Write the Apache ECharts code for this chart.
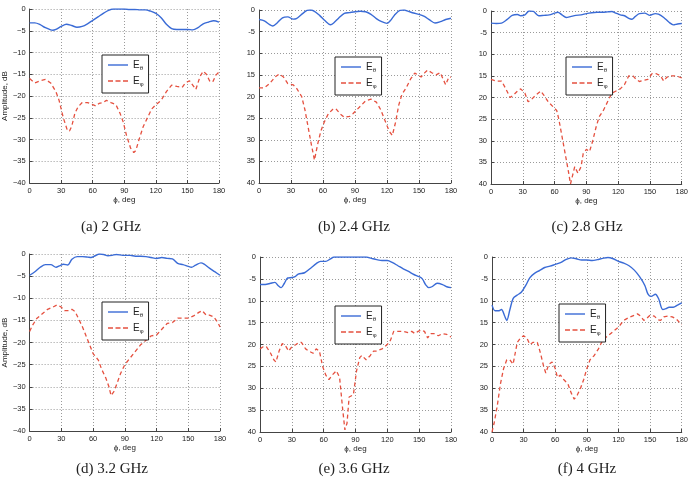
<!DOCTYPE html>
<html><head><meta charset="utf-8">
<script src="https://cdn.jsdelivr.net/npm/echarts@6/dist/echarts.min.js"></script>
<style>html,body{margin:0;padding:0;background:#fff}#c{width:691px;height:483px}</style>
</head><body><div id="c"></div>
<script>
// ---- data (phi in degrees, amplitude in dB) ----
const xTicks = [0, 30, 60, 90, 120, 150, 180];
const yTicks = [0, -5, -10, -15, -20, -25, -30, -35, -40];
const captions = ['(a) 2 GHz', '(b) 2.4 GHz', '(c) 2.8 GHz', '(d) 3.2 GHz', '(e) 3.6 GHz', '(f) 4 GHz'];
const seriesNames = ['Eθ', 'Eφ'];

const aThetaPhi = [0,5,10,15,20,22,25,30,35,40,45,50,55,60,65,70,75,80,85,90,95,100,105,110,115,120,125,130,135,140,145,150,155,160,165,170,175,180];
const aTheta    = [-3.2,-3.2,-3.6,-4.3,-4.8,-4.9,-4.7,-4.0,-3.5,-3.8,-4.2,-4.0,-3.4,-2.6,-1.8,-1.0,-0.3,0,0,0,-0.1,-0.1,-0.2,-0.2,-0.5,-1.0,-2.0,-3.5,-4.5,-4.7,-4.7,-4.7,-4.8,-4.3,-3.4,-3.0,-2.7,-3.0];
const aPhiPhi   = [0,5,10,15,20,25,28,32,36,38,40,43,46,50,55,60,63,66,70,73,78,82,86,89,92,96,99,101,104,108,112,116,120,125,130,135,140,145,148,152,155,158,162,165,168,171,174,177,180];
const aPhi      = [-16,-17,-16.5,-16.2,-17,-19,-21,-25,-28,-28,-27,-24,-22.5,-21.5,-21.5,-22,-22.3,-21.7,-21.5,-21,-21.6,-22,-24,-26,-29,-32,-33,-32.5,-30,-27,-25,-23,-22,-21,-19,-17.5,-17.8,-18,-17,-16.5,-17.5,-18.5,-15.5,-14.3,-15,-16.5,-16.8,-15.2,-14.5];

const bThetaPhi = [0,5,10,13,17,22,27,32,35,40,45,48,52,57,62,67,70,75,80,85,90,95,100,105,110,115,120,123,127,132,136,140,145,150,155,160,165,170,175,180];
const bTheta    = [-2.2,-2.5,-3.4,-3.7,-3.0,-1.8,-1.6,-2.1,-2.0,-1.0,-0.1,0,-0.3,-1.3,-2.5,-3.4,-3.0,-1.8,-0.8,-0.6,-0.4,-0.3,-0.4,-1.0,-2.0,-2.7,-3.1,-2.5,-1.2,-0.1,0,-0.3,-0.7,-1.0,-1.5,-2.3,-3.0,-2.7,-2.2,-1.9];
const bPhiPhi   = [0,5,10,15,19,23,27,32,35,40,43,46,49,52,55,58,61,65,69,72,76,80,85,88,92,96,100,105,110,114,118,122,125,128,131,134,138,142,146,149,152,155,158,162,166,170,173,175,178,180];
const bPhi      = [-18,-18,-17,-15.5,-14.8,-15.5,-17,-17.3,-18,-20,-23,-27,-31,-34.7,-31,-28,-26,-24,-23,-22.8,-24,-24.8,-24.6,-24,-23,-22,-21,-20.6,-21.3,-23,-25.5,-28,-29,-26,-22,-19.5,-18,-16,-14.6,-15,-15.5,-14.6,-13.9,-14.5,-15,-14.5,-16.2,-17.3,-15.5,-15.5];

const cThetaPhi = [0,5,10,15,20,25,28,32,36,40,45,50,55,60,63,67,71,75,80,85,90,95,100,105,110,114,118,122,126,130,133,136,140,145,150,155,158,163,168,172,176,180];
const cTheta    = [-2.8,-2.9,-2.8,-2.0,-1.0,-0.8,-1.1,-0.9,0,-0.1,-1.1,-1.0,-0.9,-0.5,-0.3,-0.9,-1.5,-1.3,-1.0,-0.9,-0.6,-0.4,-0.3,-0.3,-0.2,-0.1,-0.5,-0.9,-1.1,-1.7,-1.9,-1.3,-0.6,-0.5,-1.0,-0.6,-0.7,-1.5,-2.6,-3.2,-3.0,-2.9];
const cPhiPhi   = [0,5,10,14,18,21,25,28,32,35,38,42,47,50,54,58,62,64,67,70,73,75,77,79,82,85,87,90,93,96,99,102,106,110,114,118,122,126,130,134,137,140,145,148,152,156,160,163,166,170,175,180];
const cPhi      = [-15.8,-16.2,-16.2,-18,-20,-19.5,-18.5,-18,-19,-21,-20.5,-19.5,-18.5,-19.5,-21,-22,-23,-25,-29,-33,-37,-40,-38,-36,-37.5,-36,-33,-32,-32.5,-30,-27,-24.5,-23,-21,-19,-18.5,-18,-17,-15,-15,-15.8,-16.3,-16,-15.8,-14.5,-14.5,-15,-16.2,-15.3,-15,-15,-15.5];

const dThetaPhi = [0,5,10,15,20,25,28,32,36,40,45,50,55,58,62,66,70,74,78,82,88,95,100,105,110,115,120,125,130,135,140,145,150,153,157,162,165,170,175,180];
const dTheta    = [-4.8,-4.0,-3.0,-2.4,-2.4,-3.0,-2.7,-2.3,-2.5,-1.2,-0.6,-0.6,-0.7,-0.8,-0.4,0,-0.1,-0.4,-0.3,-0.1,-0.3,-0.3,-0.5,-0.5,-0.6,-0.8,-1.0,-0.8,-1.0,-1.1,-2.1,-2.4,-2.8,-3.0,-2.5,-2.0,-2.3,-3.2,-4.0,-4.8];
const dPhiPhi   = [0,3,7,12,17,22,26,30,33,37,40,43,46,50,55,60,65,68,72,75,77,80,83,86,90,95,100,105,110,115,120,125,130,135,140,145,150,155,160,163,167,170,174,178,180];
const dPhi      = [-17.5,-16,-14.5,-13.5,-12.5,-12,-11.5,-12,-12.8,-12.8,-12.5,-13,-14.5,-16.5,-19.5,-22.5,-24,-26,-28,-30,-32,-31,-29,-27,-25,-23.5,-22,-20.5,-19.5,-18.5,-18.3,-17,-15.7,-15.5,-14.5,-14.5,-14.5,-14,-13.2,-12.8,-13.8,-13.8,-14.2,-15.5,-16.5];

const eThetaPhi = [0,5,10,14,17,20,23,26,30,33,36,42,48,53,57,62,66,70,80,90,100,105,110,115,120,125,130,135,140,145,150,153,156,159,162,167,172,176,180];
const eTheta    = [-6.3,-6.3,-6.0,-5.8,-6.5,-7.0,-6.0,-4.8,-4.7,-4.5,-3.9,-3.6,-2.5,-1.5,-1.0,-1.0,-0.5,0,0,0,0,-0.3,-0.6,-0.8,-0.8,-1.3,-2.0,-2.7,-3.3,-4.0,-4.5,-5.0,-6.3,-7.0,-6.8,-6.0,-6.3,-6.8,-7.0];
const ePhiPhi   = [0,3,6,10,13,15,18,21,24,27,30,34,36,39,43,46,50,53,56,59,62,65,68,72,75,78,80,82,84,88,91,94,96,100,104,107,110,115,120,123,126,130,135,140,143,146,149,152,155,158,161,164,168,172,176,180];
const ePhi      = [-21,-20.5,-20.5,-22,-23.5,-24,-21.5,-19.8,-20.3,-21.5,-20.5,-20,-19.6,-19.5,-21,-21.5,-22,-21,-21.5,-25,-27,-28,-27,-26,-27.5,-35,-39.5,-38,-32,-31.5,-26,-23,-22.5,-23.5,-22.5,-21.5,-21.5,-21,-20,-19,-17,-17,-17,-17.3,-17,-17.5,-17,-16.7,-17,-18.5,-17.5,-17.5,-18,-17.5,-17.7,-18.3];

const fThetaPhi = [0,3,6,9,12,14,17,20,24,28,32,36,40,45,50,55,60,65,70,75,80,85,90,95,100,105,110,115,120,125,130,135,140,145,148,151,155,158,162,165,168,172,176,180];
const fTheta    = [-11,-12.3,-12.3,-12.0,-13.5,-14.5,-12,-9.5,-8.7,-8.0,-6.5,-4.7,-3.8,-3.1,-2.4,-2.1,-1.7,-1.3,-0.6,-0.2,-0.4,-0.7,-0.7,-0.8,-0.6,-0.3,-0.1,-0.4,-1.0,-1.4,-2.0,-3.0,-4.5,-6.5,-8.5,-9.0,-8.5,-9.5,-12.0,-11.8,-11.5,-11.5,-11,-10.5];
const fPhiPhi   = [0,2,5,8,11,14,17,20,22,24,27,30,33,36,39,43,46,49,51,54,57,60,62,65,68,72,75,78,81,84,87,90,93,97,101,105,110,115,120,125,130,135,138,141,144,147,150,154,157,160,163,167,171,175,178,180];
const fPhi      = [-40,-38,-34,-29,-25.5,-23.5,-23.5,-24.5,-22,-19.5,-18.5,-18,-18.5,-20,-19.5,-19.5,-22,-25,-26.5,-24.5,-24,-25.5,-27.5,-27,-28,-29,-31,-32.5,-31.5,-30,-28,-25.5,-23.5,-22.5,-21,-19,-18,-17,-16,-14.5,-13.8,-13.3,-13,-13.5,-14.5,-14,-13.3,-13.5,-14.3,-14.5,-13.7,-13.5,-13.7,-14.2,-15,-15.5];

const panels = [
  {tp: aThetaPhi, t: aTheta, pp: aPhiPhi, p: aPhi},
  {tp: bThetaPhi, t: bTheta, pp: bPhiPhi, p: bPhi},
  {tp: cThetaPhi, t: cTheta, pp: cPhiPhi, p: cPhi},
  {tp: dThetaPhi, t: dTheta, pp: dPhiPhi, p: dPhi},
  {tp: eThetaPhi, t: eTheta, pp: ePhiPhi, p: ePhi},
  {tp: fThetaPhi, t: fTheta, pp: fPhiPhi, p: fPhi}
];

// ---- layout ----
const grids = [
  {left: 26, top: 9, width: 193, height: 174},
  {left: 259, top: 10, width: 192, height: 173},
  {left: 491, top: 11, width: 191, height: 173},
  {left: 26, top: 254, width: 194, height: 177},
  {left: 260, top: 257, width: 191, height: 175},
  {left: 492, top: 257, width: 190, height: 175}
];
const legendPos = [
  {left: 102, top: 55}, {left: 335, top: 57}, {left: 566, top: 57},
  {left: 102, top: 302}, {left: 335, top: 306}, {left: 559, top: 304}
];
const captionPos = [[111, 227], [354, 227], [587, 227], [112, 469], [354, 469], [587, 469]];
const withName = [true, false, false, true, false, false];

const BLUE = '#3a6bd6', RED = '#e5503f';
const pair = (xs, ys) => xs.map((x, i) => [x, ys[i]]);
const ICON_SOLID = 'path://M0,0h20v1.4h-20z';
const ICON_DASH = 'path://M0,0h5v1.4h-5z M7.5,0h5v1.4h-5z M15,0h5v1.4h-5z';

const xAxis = [], yAxis = [], series = [], legend = [];
grids.forEach((g, i) => {
  xAxis.push({
    type: 'value', gridIndex: i, min: 0, max: 180, interval: 30,
    name: 'ϕ, deg', nameLocation: 'middle', nameGap: 12,
    nameTextStyle: {fontSize: 8, color: '#222', fontFamily: 'Liberation Sans'},
    axisLine: {show: true, onZero: false, lineStyle: {color: '#444', width: 1}},
    axisTick: {show: true, inside: true, length: 3, lineStyle: {color: '#444'}},
    axisLabel: {fontSize: 7.5, color: '#222', margin: 4, fontFamily: 'Liberation Sans'},
    splitLine: {show: true, lineStyle: {type: [1, 2], color: '#9a9a9a', width: 1}}
  });
  yAxis.push({
    type: 'value', gridIndex: i, min: -40, max: 0, interval: 5,
    name: withName[i] ? 'Amplitude, dB' : '', nameLocation: 'middle', nameGap: 19,
    nameTextStyle: {fontSize: 8, color: '#222', fontFamily: 'Liberation Sans'},
    axisLine: {show: true, onZero: false, lineStyle: {color: '#444', width: 1}},
    axisTick: {show: true, inside: true, length: 3, lineStyle: {color: '#444'}},
    axisLabel: {
      fontSize: 7.5, color: '#222', margin: 4, fontFamily: 'Liberation Sans',
      formatter: v => {
        if (v === 0) return '0';
        if (withName[i]) return '\u2212' + Math.abs(v);
        return v === -5 ? '-5' : String(Math.abs(v));
      }
    },
    splitLine: {show: true, lineStyle: {type: [1, 2], color: '#9a9a9a', width: 1}}
  });
  const p = panels[i];
  series.push({
    name: seriesNames[0], type: 'line', xAxisIndex: i, yAxisIndex: i,
    data: pair(p.tp, p.t), symbol: 'none', smooth: 0.3,
    lineStyle: {color: BLUE, width: 1.4}, itemStyle: {color: BLUE}, z: 3
  });
  series.push({
    name: seriesNames[1], type: 'line', xAxisIndex: i, yAxisIndex: i,
    data: pair(p.pp, p.p), symbol: 'none', smooth: false,
    lineStyle: {color: RED, width: 1.3, type: [4, 3]}, itemStyle: {color: RED}, z: 2
  });
  legend.push({
    data: [
      {name: seriesNames[0], icon: ICON_SOLID, itemStyle: {color: BLUE}},
      {name: seriesNames[1], icon: ICON_DASH, itemStyle: {color: RED}}
    ],
    orient: 'vertical', left: legendPos[i].left, top: legendPos[i].top,
    backgroundColor: '#fff', borderColor: '#222', borderWidth: 1, borderRadius: 0,
    padding: [5, 5, 6, 6], itemGap: 5, itemWidth: 20, itemHeight: 1.4,
    selectedMode: false,
    formatter: n => '{m|E}{s|' + n.slice(1) + '}',
    textStyle: {
      rich: {
        m: {fontSize: 10, color: '#222', fontFamily: 'Liberation Sans'},
        s: {fontSize: 6, color: '#222', verticalAlign: 'bottom', padding: [6, 0, 0, 0], fontFamily: 'Liberation Sans'}
      }
    }
  });
});

const graphic = captions.map((c, i) => ({
  type: 'text', x: captionPos[i][0], y: captionPos[i][1],
  style: {text: c, fontSize: 15, fill: '#222', fontFamily: 'Liberation Serif', align: 'center', verticalAlign: 'middle'}
}));

const chart = echarts.init(document.getElementById('c'), null, {renderer: 'canvas'});
chart.setOption({
  animation: false,
  backgroundColor: '#fff',
  grid: grids.map(g => Object.assign({containLabel: false}, g)),
  xAxis, yAxis, series, legend, graphic
});
</script>
</body></html>
